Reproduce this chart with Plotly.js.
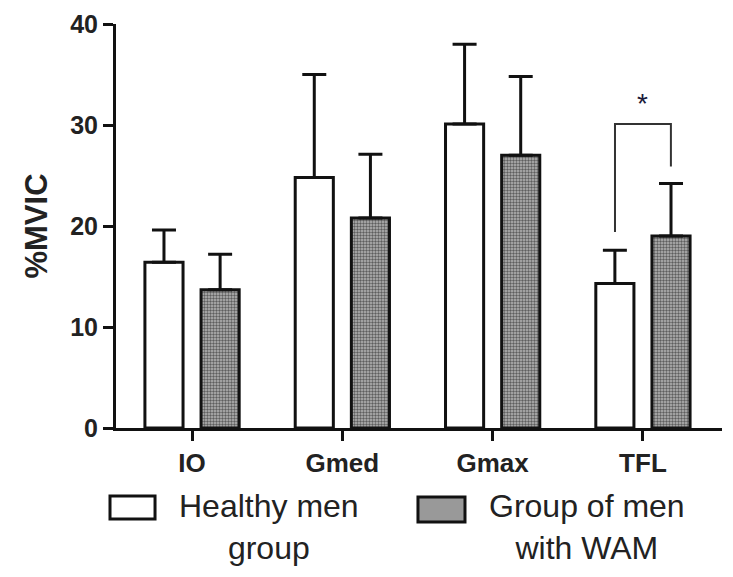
<!DOCTYPE html>
<html>
<head>
<meta charset="utf-8">
<script src="https://cdn.plot.ly/plotly-3.0.1.min.js"></script>
<style>html,body{margin:0;padding:0;background:#fff;}#chart{width:733px;height:577px;}</style>
</head>
<body>
<div id="chart"></div>
<script>
const categories = ["IO", "Gmed", "Gmax", "TFL"];
const healthyMean = [16.4, 24.8, 30.1, 14.3];
const healthySD = [3.2, 10.2, 7.9, 3.3];
const wamMean = [13.7, 20.8, 27.0, 19.0];
const wamSD = [3.5, 6.3, 7.8, 5.2];
const seriesNames = ["Healthy men<br>group", "Group of men<br>with WAM"];
const yTicks = [0, 10, 20, 30, 40];
// significance bracket (TFL): y of top, left leg bottom, right leg bottom
const bracketY = [30.1, 19.4, 25.9];

const FONT = "Liberation Sans, Arial, sans-serif";
const barLine = {color: "#111", width: 3};
const err = (sd) => ({type: "data", symmetric: false, array: sd, arrayminus: sd.map(() => 0),
  color: "#111", thickness: 3, width: 12});

const traces = [
  {type: "bar", name: seriesNames[0], x: categories, y: healthyMean, error_y: err(healthySD),
   marker: {color: "#ffffff", line: barLine}, showlegend: false},
  {type: "bar", name: seriesNames[1], x: categories, y: wamMean, error_y: err(wamSD),
   marker: {color: "#999999", line: barLine,
     pattern: {shape: ".", size: 3, solidity: 0.5, fgcolor: "#5e5e5e", bgcolor: "#b8b8b8", fillmode: "replace"}},
   showlegend: false}
];

const off = 0.186;
const ti = categories.length - 1;
const shapes = [
  {type: "path", xref: "x", yref: "y",
   path: `M ${ti - off},${bracketY[1]} L ${ti - off},${bracketY[0]} L ${ti + off},${bracketY[0]} L ${ti + off},${bracketY[2]}`,
   line: {color: "#333", width: 2}},
  // legend boxes
  {type: "rect", xref: "paper", yref: "paper", x0: -0.0099, x1: 0.0644, y0: -0.2252, y1: -0.1683,
   line: {color: "#111", width: 3}, fillcolor: "#fff"},
  {type: "rect", xref: "paper", yref: "paper", x0: 0.4983, x1: 0.5759, y0: -0.2327, y1: -0.1708,
   line: {color: "#111", width: 3}, fillcolor: "#999999"}
];

const annotations = [
  {xref: "x", yref: "y", x: ti, y: bracketY[0] + 0.3, text: "*", showarrow: false, yanchor: "bottom",
   font: {family: FONT, size: 28, color: "#1a1a3a"}},
  {xref: "paper", yref: "paper", x: 0.2525, y: -0.245, text: seriesNames[0], showarrow: false,
   align: "center", xanchor: "center", yanchor: "middle",
   font: {family: FONT, size: 32, color: "#222"}},
  {xref: "paper", yref: "paper", x: 0.778, y: -0.245, text: seriesNames[1], showarrow: false,
   align: "center", xanchor: "center", yanchor: "middle",
   font: {family: FONT, size: 32, color: "#222"}}
];

const layout = {
  width: 733, height: 577,
  margin: {l: 116, r: 11, t: 24, b: 149},
  paper_bgcolor: "#fff", plot_bgcolor: "#fff",
  barmode: "group", bargap: 0.253, bargroupgap: 0.321,
  showlegend: false,
  font: {family: FONT, color: "#222"},
  xaxis: {
    range: [-0.506, 3.526], showline: true, linecolor: "#111", linewidth: 3,
    ticks: "outside", ticklen: 10, tickwidth: 3, tickcolor: "#111",
    tickfont: {size: 26, color: "#222", family: FONT, weight: "bold"},
    showgrid: false, zeroline: false, fixedrange: true
  },
  yaxis: {
    range: [0, 40], tickvals: yTicks, showline: true, linecolor: "#111", linewidth: 3,
    ticks: "outside", ticklen: 10, tickwidth: 3, tickcolor: "#111",
    tickfont: {size: 25, color: "#222", family: FONT, weight: "bold"},
    showgrid: false, zeroline: false,
    title: {text: "%MVIC", standoff: 14, font: {size: 31, color: "#222", family: FONT, weight: "bold"}}
  },
  shapes: shapes,
  annotations: annotations
};

Plotly.newPlot("chart", traces, layout, {displayModeBar: false, staticPlot: true});
</script>
</body>
</html>
